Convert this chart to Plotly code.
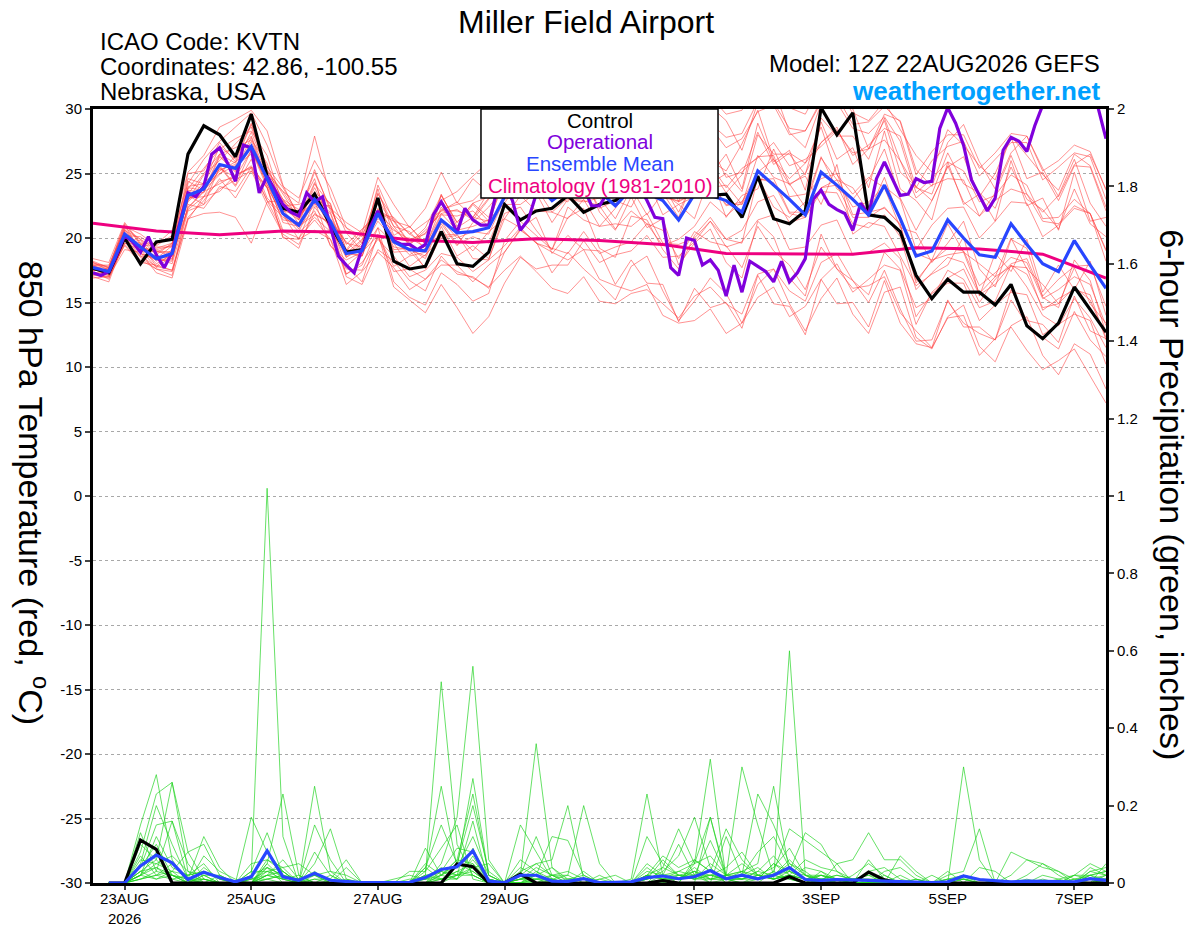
import pandas as pd
import plotly.graph_objects as go

# %% values
# 850 hPa temperature, 6-hourly from 12Z 22AUG2026 (65 steps)
control_t = [
    17.65, 17.3, 20.0, 18.0, 19.7, 19.9, 26.5, 28.7, 28.0, 26.3,
    29.6, 24.8, 22.3, 22.0, 23.4, 21.0, 18.9, 19.1, 23.1, 18.2,
    17.6, 17.8, 20.5, 18.0, 17.8, 18.9, 22.6, 21.4, 22.1, 22.3,
    23.3, 22.0, 22.6, 22.9, 23.8, 24.2, 23.6, 24.0, 23.5, 23.3,
    23.4, 21.6, 24.8, 21.5, 21.1, 22.1, 30.1, 28.0, 29.7, 21.8,
    21.6, 20.5, 17.1, 15.3, 16.8, 15.8, 15.8, 14.8, 16.4, 13.2,
    12.2, 13.4, 16.2, 14.5, 12.7,
]
mean_t = [
    17.7, 17.4, 20.3, 19.3, 18.4, 18.8, 23.3, 23.8, 25.7, 25.4,
    27.1, 24.6, 21.9, 21.0, 23.0, 21.3, 18.8, 19.0, 21.9, 19.7,
    19.1, 19.0, 21.4, 20.4, 20.5, 20.8, 23.2, 24.0, 24.3, 22.9,
    23.8, 24.2, 23.6, 22.5, 23.8, 23.5, 22.9, 21.4, 23.4, 23.3,
    22.9, 22.0, 25.2, 24.1, 23.0, 21.8, 25.1, 24.1, 23.0, 21.8,
    24.1, 21.5, 18.6, 19.0, 21.4, 20.0, 18.7, 18.5, 21.1, 19.5,
    18.0, 17.4, 19.8, 17.9, 16.1,
]
# operational run, 3-hourly (129 steps)
oper_t = [
    17.3, 17.1, 17.4, 18.7, 20.2, 19.7, 18.9, 20.1, 18.7, 17.7, 18.9, 21.3,
    23.5, 23.2, 24.0, 26.5, 27.0, 25.8, 24.4, 27.2, 27.0, 23.5, 24.8, 23.7,
    22.6, 22.0, 21.7, 23.5, 22.8, 23.2, 21.0, 18.6, 17.9, 17.3, 19.2, 20.8,
    22.1, 20.8, 19.8, 19.5, 19.5, 19.1, 19.5, 21.8, 22.8, 21.8, 20.4, 22.3,
    21.4, 21.0, 21.0, 23.6, 24.2, 22.9, 20.6, 21.4, 23.4, 24.0, 23.6, 24.3,
    23.8, 24.5, 23.9, 22.5, 22.5, 23.5, 24.1, 23.7, 24.4, 24.0, 22.9, 21.6,
    21.5, 17.7, 17.1, 20.0, 19.8, 17.9, 18.3, 17.5, 15.5, 17.9, 15.8, 18.2,
    17.8, 17.4, 16.6, 18.2, 16.6, 17.3, 18.4, 23.0, 23.7, 22.6, 22.2, 21.9,
    20.6, 22.7, 21.8, 24.6, 25.9, 24.6, 23.3, 23.4, 24.6, 24.3, 24.4, 28.5,
    30.1, 28.9, 27.2, 24.5, 23.3, 22.1, 23.1, 26.8, 27.8, 27.5, 26.7, 28.7,
    30.3, 31.2, 31.8, 31.4, 31.9, 31.1, 30.6, 30.1, 27.7,
]
# climatology 1981-2010, daily at 12Z
clim_t = [21.15, 20.55, 20.25, 20.55, 20.45, 19.85, 19.65, 19.95, 19.8,
          19.5, 18.8, 18.8, 18.75, 19.25, 19.15, 18.75, 16.9]

# ensemble members (6-hourly, 65 steps)
temp_members = [
    [18.1, 17.5, 20.9, 20.3, 19.4, 20.2, 24.2, 26.1, 27.5, 28.6,
     29.7, 27.2, 24.0, 23.1, 26.0, 23.9, 20.8, 20.1, 23.4, 21.5,
     20.3, 19.6, 22.9, 23.6, 24.8, 25.9, 28.3, 27.6, 29.4, 27.0,
     28.8, 30.6, 29.0, 26.7, 27.5, 29.8, 28.3, 25.7, 27.4, 30.2,
     29.1, 26.8, 30.5, 31.6, 28.2, 27.0, 30.4, 31.8, 30.0, 26.9,
     29.6, 29.1, 25.3, 24.0, 27.4, 28.8, 25.9, 23.8, 26.6, 27.9,
     25.4, 23.2, 25.7, 26.5, 23.8],
    [17.2, 16.9, 19.5, 18.3, 17.6, 17.4, 21.6, 22.9, 24.6, 23.1,
     25.2, 23.9, 20.1, 19.2, 22.4, 20.8, 17.0, 16.4, 19.1, 18.2,
     16.7, 15.9, 18.6, 17.2, 17.0, 16.1, 18.9, 20.6, 19.7, 17.3,
     18.9, 17.6, 16.5, 15.2, 17.8, 18.6, 15.9, 13.6, 15.1, 16.9,
     15.7, 13.4, 16.4, 17.6, 14.9, 12.8, 15.3, 16.9, 14.1, 12.6,
     15.8, 16.2, 12.3, 11.4, 13.9, 14.8, 11.6, 10.4, 13.2, 13.9,
     10.9, 9.4, 11.8, 11.0, 8.3],
    [16.9, 17.0, 19.1, 18.9, 17.3, 16.9, 21.4, 23.2, 23.6, 24.9,
     25.4, 22.9, 21.6, 20.9, 22.1, 19.4, 18.3, 18.9, 20.2, 17.8,
     18.6, 18.9, 21.1, 19.4, 21.2, 22.4, 23.9, 26.3, 25.1, 23.6,
     27.3, 26.1, 25.4, 27.0, 28.2, 25.9, 24.6, 26.3, 28.5, 26.0,
     25.2, 27.3, 29.9, 26.1, 24.6, 25.8, 28.6, 24.9, 23.4, 24.7,
     23.9, 20.8, 20.4, 18.1, 19.6, 21.3, 17.6, 16.2, 19.9, 19.2,
     15.4, 14.6, 18.3, 16.7, 12.6],
    [18.4, 18.1, 21.2, 19.6, 19.5, 20.6, 25.1, 26.4, 28.6, 29.2,
     29.9, 28.3, 24.1, 21.6, 23.5, 22.7, 18.6, 19.8, 23.0, 20.9,
     19.4, 17.6, 20.2, 20.3, 18.4, 18.3, 21.9, 22.4, 20.6, 19.1,
     21.6, 22.3, 19.2, 18.5, 21.7, 21.4, 19.1, 17.6, 20.2, 21.6,
     19.9, 19.6, 24.7, 22.4, 21.6, 22.8, 26.3, 23.8, 23.0, 24.5,
     26.9, 23.1, 20.6, 22.9, 25.6, 22.8, 21.7, 23.5, 26.4, 23.4,
     22.0, 23.3, 26.1, 22.7, 20.9],
    [17.6, 17.1, 19.8, 18.6, 17.8, 17.5, 22.1, 22.6, 23.8, 24.5,
     25.2, 22.6, 20.3, 19.5, 21.9, 21.1, 17.2, 17.9, 20.8, 16.6,
     15.4, 14.8, 17.3, 16.4, 15.1, 15.7, 19.8, 21.3, 20.2, 19.1,
     22.4, 21.4, 20.9, 22.3, 23.9, 21.8, 23.5, 22.6, 23.2, 25.4,
     23.5, 24.9, 28.2, 25.7, 26.6, 25.8, 27.4, 28.6, 25.7, 26.9,
     29.1, 25.1, 24.0, 22.9, 25.5, 26.3, 23.2, 25.0, 27.8, 24.6,
     25.1, 22.9, 25.6, 25.5, 22.1],
    [18.0, 17.8, 21.0, 19.0, 19.0, 18.9, 24.4, 23.7, 24.9, 26.4,
     27.9, 24.8, 23.0, 22.2, 24.6, 20.4, 19.1, 18.9, 23.5, 20.9,
     20.5, 19.1, 21.8, 21.7, 22.1, 20.9, 25.1, 24.3, 25.7, 24.1,
     23.6, 24.9, 22.0, 20.6, 23.2, 20.8, 21.5, 17.9, 19.6, 20.7,
     18.1, 16.9, 21.3, 20.1, 16.9, 15.5, 20.3, 17.6, 16.1, 16.3,
     17.0, 14.2, 12.8, 11.5, 13.8, 14.0, 10.9, 12.2, 13.1, 11.3,
     9.8, 10.5, 11.4, 9.3, 7.2],
    [17.5, 17.6, 20.2, 20.1, 19.2, 19.6, 22.9, 24.9, 26.0, 27.3,
     28.6, 25.2, 23.6, 21.8, 25.1, 22.3, 21.2, 20.4, 24.7, 22.6,
     20.8, 22.3, 25.1, 22.7, 24.6, 23.5, 26.4, 29.0, 27.9, 28.4,
     27.8, 30.1, 27.6, 28.1, 27.4, 28.7, 26.0, 26.0, 25.9, 27.3,
     24.7, 25.1, 26.3, 26.4, 23.2, 23.4, 24.6, 25.0, 21.8, 22.0,
     22.3, 21.1, 16.5, 18.3, 18.7, 18.9, 15.7, 17.0, 17.8, 17.7,
     14.4, 15.3, 16.0, 15.6, 12.1],
    [17.1, 17.0, 19.6, 19.5, 17.8, 18.9, 22.3, 23.6, 24.2, 24.9,
     25.5, 23.9, 20.0, 19.9, 20.6, 19.9, 16.4, 17.4, 18.9, 17.7,
     16.0, 16.8, 17.9, 17.9, 16.6, 17.9, 18.9, 20.7, 19.6, 19.2,
     18.8, 20.5, 18.8, 19.3, 19.7, 21.1, 19.4, 19.9, 20.9, 22.8,
     21.7, 22.8, 25.1, 26.1, 24.1, 25.0, 27.4, 28.4, 26.4, 27.2,
     28.5, 27.9, 23.9, 26.0, 27.1, 27.5, 24.8, 26.1, 27.4, 27.4,
     24.5, 25.5, 26.6, 26.3, 23.0],
    [17.4, 16.8, 20.1, 18.6, 18.5, 18.0, 22.4, 23.6, 25.6, 24.1,
     26.8, 24.4, 21.2, 20.9, 21.8, 21.2, 17.8, 18.9, 20.8, 19.6,
     17.8, 18.7, 20.0, 20.2, 19.0, 20.5, 21.5, 23.3, 22.1, 22.0,
     21.5, 23.0, 20.9, 21.1, 20.9, 21.9, 19.6, 19.5, 20.0, 21.3,
     19.3, 19.7, 21.4, 21.8, 19.1, 19.3, 21.0, 21.4, 18.7, 18.9,
     19.6, 18.4, 13.9, 15.7, 16.5, 16.5, 13.6, 14.8, 15.8, 15.6,
     12.5, 13.3, 14.1, 13.6, 10.2],
    [17.9, 17.7, 20.7, 19.2, 18.9, 19.5, 23.9, 23.7, 26.4, 25.2,
     27.8, 24.4, 22.9, 21.1, 24.2, 22.6, 19.0, 20.3, 22.2, 21.4,
     19.6, 20.8, 23.3, 21.2, 22.7, 23.2, 24.4, 26.8, 25.9, 26.1,
     25.9, 27.8, 26.0, 26.6, 26.7, 27.9, 26.2, 26.2, 27.1, 28.6,
     27.0, 27.7, 29.8, 30.3, 28.0, 28.3, 30.5, 31.0, 28.8, 29.0,
     30.2, 29.0, 24.9, 26.7, 28.0, 28.0, 25.4, 26.6, 28.1, 27.9,
     25.2, 26.0, 27.2, 26.7, 23.7],
    [17.6, 17.2, 20.4, 18.8, 18.3, 18.2, 23.3, 22.6, 25.5, 24.0,
     26.1, 23.1, 21.8, 19.9, 22.9, 19.4, 17.9, 16.6, 20.3, 16.2,
     15.2, 14.2, 16.4, 14.6, 12.6, 13.9, 16.5, 18.5, 17.6, 17.9,
     17.9, 19.8, 18.1, 18.7, 19.0, 20.2, 18.5, 18.6, 19.7, 21.3,
     19.9, 20.6, 22.8, 23.3, 21.2, 21.6, 23.9, 24.5, 22.4, 22.8,
     24.0, 23.0, 19.1, 21.0, 22.3, 22.4, 20.0, 21.3, 22.8, 22.7,
     20.1, 21.0, 22.3, 21.9, 19.0],
    [17.2, 17.3, 19.4, 18.1, 17.9, 17.5, 21.5, 21.9, 22.0, 21.6,
     19.6, 22.8, 22.9, 21.8, 22.6, 22.5, 19.1, 20.6, 22.0, 21.3,
     19.5, 20.6, 21.9, 22.2, 21.4, 23.0, 24.3, 26.6, 25.8, 25.9,
     25.4, 26.8, 24.6, 24.7, 24.5, 25.3, 23.1, 22.9, 23.4, 24.4,
     22.5, 22.8, 24.5, 24.6, 22.0, 22.0, 23.9, 24.1, 21.6, 21.6,
     22.4, 21.0, 16.7, 18.2, 19.2, 19.0, 16.3, 17.3, 18.5, 18.1,
     15.3, 16.0, 17.0, 16.4, 13.2],
    [18.1, 17.7, 21.1, 19.5, 19.3, 19.3, 25.0, 25.2, 27.4, 25.9,
     28.8, 25.3, 23.4, 21.5, 24.3, 21.3, 19.7, 18.6, 22.3, 18.9,
     19.0, 17.7, 20.9, 18.6, 19.4, 18.4, 21.5, 20.8, 21.6, 18.8,
     20.2, 19.1, 19.0, 16.4, 18.3, 16.5, 16.4, 13.5, 16.1, 14.6,
     15.0, 13.0, 17.1, 14.9, 14.7, 12.5, 16.8, 14.9, 15.0, 13.1,
     16.7, 13.4, 11.8, 11.5, 15.2, 13.1, 13.1, 12.1, 16.0, 13.6,
     13.3, 11.9, 15.5, 12.8, 12.2],
    [17.8, 17.6, 20.0, 19.8, 18.4, 19.4, 23.4, 25.0, 26.5, 27.0,
     27.6, 25.8, 22.1, 21.8, 22.8, 22.0, 18.8, 19.9, 22.0, 20.7,
     19.5, 20.4, 22.1, 22.1, 21.6, 23.1, 24.8, 26.8, 26.5, 26.3,
     26.6, 28.1, 26.9, 26.9, 27.5, 28.4, 27.1, 26.6, 27.9, 28.9,
     27.8, 28.1, 30.6, 30.5, 28.5, 28.3, 30.7, 30.5, 28.5, 28.1,
     29.4, 27.5, 23.5, 24.6, 25.9, 25.2, 22.8, 23.3, 24.9, 24.1,
     21.5, 21.6, 23.0, 21.9, 19.1],
    [17.5, 17.5, 20.0, 19.6, 18.2, 19.1, 22.8, 24.0, 25.0, 25.6,
     26.5, 24.9, 23.6, 22.7, 27.9, 23.2, 20.4, 19.0, 24.1, 21.3,
     20.9, 19.5, 23.3, 21.2, 22.7, 21.6, 25.4, 25.1, 26.6, 24.0,
     25.2, 26.5, 24.8, 24.4, 24.7, 25.3, 23.4, 22.8, 23.5, 24.3,
     22.6, 22.6, 24.6, 24.3, 21.9, 21.6, 23.6, 23.5, 21.1, 20.8,
     21.8, 20.1, 16.0, 17.3, 18.5, 18.1, 15.6, 16.4, 17.9, 17.2,
     14.6, 14.9, 16.2, 15.2, 12.3],
    [17.3, 17.4, 20.6, 19.3, 19.0, 18.6, 23.7, 23.5, 26.3, 25.1,
     27.5, 24.6, 22.2, 20.7, 23.5, 20.8, 18.9, 18.6, 22.1, 19.1,
     19.2, 18.4, 21.3, 19.5, 20.1, 19.6, 22.6, 22.6, 23.5, 21.2,
     23.0, 22.8, 23.1, 21.5, 23.8, 23.1, 23.5, 21.6, 24.8, 24.2,
     25.0, 23.6, 28.0, 26.5, 26.5, 24.9, 29.3, 27.9, 27.9, 26.1,
     29.3, 26.0, 23.9, 23.4, 26.6, 24.2, 23.5, 22.3, 25.5, 23.0,
     22.2, 20.7, 23.8, 21.1, 20.1],
    [17.8, 17.4, 20.2, 18.8, 18.4, 18.3, 23.1, 23.2, 25.4, 24.7,
     26.8, 23.9, 21.8, 20.5, 23.0, 20.8, 18.8, 18.6, 21.9, 19.3,
     19.1, 18.6, 21.4, 20.0, 20.5, 20.3, 23.0, 23.3, 23.9, 22.0,
     23.1, 22.9, 22.5, 20.7, 22.1, 21.1, 20.6, 18.4, 20.5, 19.7,
     19.4, 17.7, 20.9, 19.0, 17.9, 16.0, 19.3, 17.6, 16.7, 15.0,
     17.5, 14.5, 12.0, 12.1, 15.1, 13.4, 12.6, 12.1, 15.2, 13.3,
     12.3, 11.4, 14.3, 12.1, 10.8],
    [18.2, 17.7, 20.8, 19.9, 18.7, 19.6, 24.6, 24.2, 27.1, 26.1,
     28.9, 25.5, 23.9, 21.8, 25.3, 22.1, 20.8, 19.6, 23.8, 20.2,
     20.9, 19.6, 23.4, 20.9, 22.6, 21.3, 25.4, 24.6, 26.7, 23.7,
     26.3, 25.0, 26.4, 23.5, 26.8, 24.7, 26.1, 22.8, 26.7, 24.9,
     26.5, 23.8, 28.9, 25.9, 26.8, 23.7, 29.0, 26.1, 27.0, 23.9,
     28.3, 23.8, 22.9, 21.4, 25.9, 22.6, 23.4, 21.3, 26.0, 22.5,
     23.1, 20.6, 25.1, 21.3, 21.6],
    [17.2, 17.1, 19.6, 19.1, 17.7, 18.6, 22.2, 23.2, 24.4, 24.7,
     25.6, 23.9, 20.6, 20.4, 21.6, 20.5, 17.2, 18.1, 19.9, 18.6,
     17.0, 17.5, 18.8, 18.5, 17.4, 18.3, 19.4, 20.8, 19.6, 18.9,
     18.3, 19.1, 16.8, 16.3, 15.9, 16.4, 14.0, 13.4, 13.6, 14.5,
     12.6, 13.4, 15.4, 16.2, 13.9, 14.7, 16.8, 18.0, 15.8, 16.8,
     17.9, 17.5, 13.3, 15.8, 16.9, 17.6, 15.0, 16.8, 18.0, 18.4,
     15.5, 16.8, 17.8, 17.9, 14.7],
    [17.9, 17.3, 20.5, 19.3, 18.9, 18.9, 24.0, 24.2, 26.5, 25.8,
     28.2, 25.2, 23.0, 21.4, 23.9, 21.5, 19.6, 19.3, 22.8, 20.0,
     20.0, 19.3, 22.4, 20.8, 21.6, 21.3, 24.4, 24.6, 25.5, 23.5,
     25.0, 24.8, 24.8, 23.1, 25.0, 24.1, 24.1, 22.0, 24.6, 23.9,
     24.1, 22.6, 26.4, 24.7, 24.2, 22.4, 26.2, 24.5, 23.9, 22.0,
     24.7, 21.3, 18.8, 18.3, 21.1, 18.9, 18.0, 17.0, 20.0, 17.6,
     16.4, 14.9, 17.7, 14.9, 13.4],
    [17.7, 17.2, 20.3, 19.0, 18.6, 18.4, 23.0, 23.8, 25.2, 25.9,
     26.9, 24.2, 21.4, 21.2, 22.5, 21.9, 18.5, 19.6, 21.5, 20.6,
     19.9, 20.3, 22.2, 22.6, 22.9, 24.1, 25.8, 27.9, 28.3, 27.8,
     29.1, 30.4, 30.0, 29.3, 30.8, 31.2, 29.5, 28.4, 30.3, 31.0,
     29.6, 29.9, 32.3, 31.6, 30.1, 29.6, 31.9, 31.4, 29.7, 29.1,
     30.6, 28.4, 26.4, 25.1, 28.4, 27.2, 25.6, 24.5, 27.9, 26.4,
     24.9, 23.7, 26.5, 25.6, 22.4],
    [17.5, 17.6, 20.0, 19.4, 18.0, 18.7, 22.9, 24.3, 25.3, 25.7,
     27.0, 24.1, 22.3, 21.4, 23.6, 20.7, 18.5, 19.2, 21.3, 19.9,
     18.7, 19.4, 21.9, 20.6, 20.9, 21.4, 22.7, 24.5, 23.7, 23.3,
     22.8, 24.6, 22.3, 22.9, 22.4, 24.6, 21.8, 22.6, 21.5, 24.9,
     21.6, 23.3, 23.8, 26.9, 24.2, 24.8, 22.6, 25.7, 20.3, 21.2,
     20.9, 18.6, 16.3, 17.2, 17.9, 20.1, 15.5, 18.8, 17.4, 19.9,
     15.8, 17.9, 16.0, 18.2, 14.0],
    [17.0, 16.6, 19.9, 18.5, 17.6, 17.1, 22.6, 22.3, 24.0, 23.6,
     25.5, 22.9, 20.5, 20.0, 21.4, 19.9, 17.6, 17.5, 20.1, 17.4,
     17.6, 16.8, 18.3, 17.4, 16.9, 16.2, 17.5, 18.6, 17.4, 16.1,
     15.7, 17.0, 15.1, 14.9, 15.7, 16.0, 14.9, 13.8, 15.5, 16.2,
     14.9, 14.1, 17.2, 17.6, 15.9, 15.1, 18.1, 18.8, 16.7, 15.6,
     18.9, 17.6, 14.6, 15.3, 17.5, 16.8, 14.6, 15.1, 17.9, 16.2,
     14.0, 13.2, 15.3, 13.8, 11.5],
    [17.9, 17.9, 20.6, 19.9, 19.1, 19.4, 23.8, 25.4, 26.9, 27.7,
     28.3, 26.4, 22.5, 22.6, 23.1, 22.3, 19.5, 20.7, 21.9, 21.6,
     20.3, 21.2, 22.1, 22.8, 21.6, 23.6, 24.1, 26.0, 25.2, 25.6,
     24.9, 26.6, 24.1, 25.6, 24.2, 26.1, 23.6, 24.6, 23.8, 25.7,
     23.9, 25.4, 26.2, 27.4, 25.6, 26.1, 27.1, 28.3, 26.6, 26.9,
     27.6, 26.0, 23.1, 24.1, 24.6, 24.5, 21.7, 22.9, 23.8, 23.4,
     21.3, 21.1, 22.5, 21.9, 18.2],
]

# 6-hour precipitation (inches), from 18Z 22AUG2026 (64 steps)
control_p = [
    0, 0, 0.111, 0.087, 0, 0, 0, 0,
    0, 0, 0, 0, 0, 0, 0, 0,
    0, 0, 0, 0, 0, 0, 0.049, 0.042,
    0, 0, 0.023, 0, 0, 0, 0, 0,
    0, 0, 0, 0.006, 0, 0, 0, 0,
    0, 0, 0, 0.016, 0, 0, 0, 0,
    0.028, 0.008, 0, 0, 0, 0, 0, 0,
    0, 0, 0, 0, 0, 0, 0, 0,
]
mean_p = [
    0, 0, 0.044, 0.072, 0.052, 0.009, 0.028, 0.014,
    0.003, 0.016, 0.083, 0.016, 0.007, 0.025, 0.007, 0.003,
    0.001, 0.001, 0.001, 0.002, 0.014, 0.035, 0.042, 0.083,
    0.005, 0.001, 0.02, 0.02, 0.005, 0.004, 0.011, 0.001,
    0.002, 0.003, 0.014, 0.018, 0.011, 0.016, 0.032, 0.011,
    0.02, 0.011, 0.02, 0.04, 0.009, 0.007, 0.009, 0.009,
    0.007, 0.005, 0.003, 0.003, 0.001, 0.003, 0.018, 0.009,
    0.005, 0.003, 0.005, 0.005, 0.003, 0.003, 0.011, 0.007,
]
precip_members = [
    [0, 0, 0.15, 0.28, 0.06, 0, 0.02, 0,
     0, 0.02, 1.02, 0.12, 0, 0.03, 0, 0,
     0, 0, 0, 0, 0.02, 0.52, 0.10, 0.02,
     0, 0, 0.04, 0.02, 0, 0, 0, 0,
     0, 0, 0.05, 0.02, 0, 0.06, 0.03, 0,
     0, 0.01, 0.05, 0.02, 0, 0, 0, 0,
     0, 0, 0, 0, 0, 0, 0.02, 0.01,
     0, 0, 0, 0, 0, 0, 0.02, 0],
    [0, 0, 0.08, 0.23, 0.26, 0.03, 0, 0,
     0, 0, 0.05, 0.23, 0.02, 0, 0, 0,
     0, 0, 0, 0, 0, 0.05, 0.17, 0.56,
     0.06, 0, 0, 0.03, 0, 0, 0.01, 0,
     0, 0, 0.02, 0.04, 0.14, 0.05, 0.32, 0.01,
     0, 0.02, 0.01, 0.03, 0.01, 0, 0, 0,
     0, 0, 0, 0, 0, 0, 0, 0,
     0, 0, 0, 0, 0, 0.02, 0.05, 0.03],
    [0, 0, 0.04, 0.15, 0.16, 0.01, 0.12, 0.04,
     0, 0.17, 0.08, 0.03, 0, 0.15, 0.06, 0,
     0, 0, 0, 0, 0.09, 0.02, 0.04, 0.27,
     0.02, 0, 0.02, 0.36, 0.04, 0, 0, 0,
     0, 0, 0, 0, 0, 0, 0.17, 0.02,
     0.30, 0.15, 0.02, 0.01, 0, 0.03, 0, 0,
     0, 0, 0, 0, 0, 0.03, 0, 0,
     0, 0, 0, 0.01, 0, 0, 0.04, 0.02],
    [0, 0, 0.03, 0.06, 0.26, 0.08, 0.10, 0.02,
     0, 0, 0.04, 0.02, 0, 0.25, 0.03, 0,
     0, 0, 0, 0, 0.04, 0.15, 0.05, 0.20,
     0.03, 0, 0.15, 0.08, 0.01, 0, 0.03, 0,
     0, 0.01, 0.23, 0.02, 0.01, 0.03, 0.01, 0.02,
     0.05, 0.02, 0.01, 0.60, 0.02, 0, 0.01, 0,
     0, 0, 0, 0, 0, 0, 0.01, 0,
     0, 0, 0, 0, 0, 0, 0, 0.01],
    [0, 0, 0.02, 0.12, 0.04, 0.02, 0.03, 0.01,
     0, 0.05, 0.06, 0.03, 0, 0.05, 0.14, 0.01,
     0, 0, 0, 0, 0, 0.03, 0.02, 0.16,
     0, 0, 0, 0, 0.02, 0.03, 0.01, 0,
     0, 0, 0, 0.02, 0.03, 0.05, 0.17, 0.01,
     0, 0, 0.03, 0.14, 0.11, 0.08, 0.05, 0.06,
     0.13, 0.06, 0.06, 0.02, 0, 0, 0, 0,
     0, 0, 0, 0, 0, 0, 0, 0],
    [0, 0, 0.10, 0.06, 0.02, 0, 0.07, 0.03,
     0.01, 0, 0.05, 0.01, 0.02, 0, 0, 0,
     0, 0, 0, 0.03, 0.03, 0.09, 0.15, 0.01,
     0, 0, 0.01, 0.04, 0.02, 0.02, 0.20, 0.05,
     0, 0, 0, 0, 0.02, 0.03, 0, 0.12,
     0.02, 0.23, 0.15, 0.05, 0.03, 0, 0, 0.01,
     0, 0, 0.02, 0, 0, 0, 0, 0,
     0, 0, 0.02, 0.05, 0.03, 0, 0, 0],
    [0, 0, 0.06, 0.05, 0.03, 0.08, 0.01, 0,
     0, 0, 0.03, 0.04, 0.05, 0.02, 0, 0.04,
     0, 0, 0, 0, 0.05, 0.02, 0.06, 0.23,
     0.02, 0, 0, 0.02, 0.12, 0.11, 0.02, 0,
     0, 0, 0, 0, 0, 0.05, 0.07, 0.02,
     0.03, 0.05, 0.25, 0.03, 0.13, 0.10, 0.03, 0,
     0.06, 0.01, 0, 0, 0, 0, 0, 0,
     0, 0.08, 0.06, 0.05, 0.02, 0, 0.01, 0.02],
    [0, 0, 0.05, 0.20, 0.10, 0.01, 0, 0,
     0, 0.03, 0.13, 0.02, 0, 0, 0, 0,
     0, 0, 0, 0, 0.03, 0.25, 0.04, 0.12,
     0.02, 0, 0, 0, 0, 0, 0, 0.01,
     0.02, 0, 0.02, 0.07, 0.04, 0.06, 0.03, 0.14,
     0.06, 0.02, 0.04, 0.09, 0.02, 0, 0, 0,
     0.03, 0.04, 0.01, 0, 0, 0, 0, 0,
     0, 0, 0, 0, 0, 0.01, 0.02, 0.03],
    [0, 0, 0.02, 0.08, 0.05, 0.01, 0, 0.02,
     0, 0.01, 0.02, 0.06, 0.01, 0.02, 0.01, 0.06,
     0, 0, 0, 0, 0.02, 0.03, 0.09, 0.08,
     0.01, 0, 0.02, 0.12, 0.02, 0, 0, 0.02,
     0, 0, 0.01, 0.03, 0.07, 0.17, 0.04, 0,
     0.02, 0.08, 0.12, 0.04, 0.01, 0, 0.05, 0,
     0, 0, 0.07, 0.03, 0, 0, 0, 0.04,
     0.03, 0, 0, 0, 0, 0, 0, 0],
    [0, 0, 0.13, 0.03, 0.16, 0.05, 0, 0,
     0, 0, 0.06, 0.04, 0, 0.08, 0.02, 0,
     0, 0, 0, 0, 0, 0.01, 0.03, 0.05,
     0, 0, 0.03, 0.05, 0.06, 0.20, 0.01, 0,
     0, 0, 0, 0.04, 0.02, 0.02, 0.03, 0.01,
     0.01, 0.03, 0.07, 0.02, 0.06, 0.04, 0.03, 0.01,
     0.01, 0, 0, 0, 0, 0, 0.30, 0.06,
     0, 0, 0, 0, 0, 0, 0, 0],
    [0, 0, 0.04, 0.10, 0.02, 0, 0.04, 0.01,
     0, 0, 0.02, 0.01, 0, 0.02, 0.03, 0.02,
     0, 0, 0.01, 0.02, 0.01, 0.04, 0.02, 0.04,
     0.05, 0, 0.06, 0.03, 0.01, 0, 0, 0,
     0, 0, 0.12, 0.05, 0.02, 0.01, 0.02, 0.04,
     0.08, 0.02, 0.01, 0.02, 0.01, 0.02, 0, 0,
     0, 0, 0, 0, 0, 0.02, 0.03, 0.14,
     0, 0, 0, 0, 0, 0, 0, 0.02],
    [0, 0, 0.03, 0.04, 0.01, 0, 0.01, 0,
     0, 0.03, 0.03, 0.02, 0, 0.01, 0, 0,
     0, 0, 0, 0, 0, 0.02, 0.01, 0.04,
     0, 0, 0.01, 0.02, 0.04, 0.01, 0.02, 0,
     0, 0, 0.01, 0.02, 0.10, 0.02, 0.11, 0.02,
     0.01, 0.03, 0.02, 0.06, 0.02, 0.01, 0, 0,
     0, 0.02, 0, 0, 0, 0, 0.02, 0,
     0, 0.02, 0.06, 0.04, 0.03, 0.01, 0, 0.01],
    [0, 0, 0.01, 0.03, 0.02, 0.01, 0, 0,
     0, 0.01, 0.01, 0, 0, 0, 0, 0,
     0, 0, 0, 0, 0.01, 0.02, 0.06, 0.05,
     0.01, 0, 0, 0, 0, 0, 0, 0.01,
     0, 0, 0, 0.01, 0.03, 0.02, 0.02, 0.01,
     0.02, 0.01, 0.05, 0.03, 0.02, 0.01, 0, 0.02,
     0.05, 0.02, 0, 0, 0, 0.01, 0.01, 0,
     0, 0, 0.01, 0, 0, 0, 0, 0.05],
    [0, 0, 0.02, 0.01, 0.03, 0.02, 0.03, 0.01,
     0, 0, 0.02, 0.03, 0, 0.01, 0.01, 0,
     0, 0, 0, 0, 0.02, 0.01, 0.03, 0.02,
     0, 0, 0.01, 0.01, 0.02, 0.01, 0.01, 0,
     0, 0, 0.04, 0.01, 0.01, 0.02, 0, 0.01,
     0.03, 0.01, 0.02, 0.01, 0, 0.02, 0.01, 0,
     0, 0, 0, 0.01, 0, 0, 0, 0,
     0, 0, 0, 0.02, 0.01, 0, 0.03, 0.04],
    [0, 0, 0.02, 0.05, 0.07, 0.03, 0.02, 0,
     0, 0, 0.01, 0.02, 0.01, 0, 0, 0.01,
     0, 0, 0, 0, 0, 0.01, 0.02, 0.03,
     0, 0, 0.02, 0.01, 0.01, 0, 0, 0,
     0, 0, 0.02, 0.01, 0.02, 0.01, 0.05, 0.02,
     0.02, 0.04, 0.01, 0.02, 0.01, 0.01, 0.02, 0.01,
     0.02, 0.01, 0, 0, 0, 0.01, 0.02, 0.01,
     0, 0, 0, 0, 0, 0, 0.01, 0],
    [0, 0, 0.07, 0.02, 0.01, 0.02, 0.05, 0,
     0, 0, 0.02, 0.01, 0, 0, 0, 0,
     0, 0, 0, 0, 0, 0, 0.02, 0.06,
     0.01, 0, 0.02, 0.05, 0.02, 0, 0, 0,
     0, 0, 0.01, 0.06, 0.02, 0.01, 0.01, 0.01,
     0.01, 0.02, 0.02, 0.05, 0.02, 0.02, 0.01, 0.01,
     0.01, 0.01, 0, 0, 0.02, 0, 0, 0,
     0, 0, 0, 0, 0, 0, 0.03, 0.02],
    [0, 0, 0.01, 0.02, 0.05, 0.01, 0.01, 0,
     0, 0.02, 0.04, 0, 0, 0, 0, 0,
     0, 0, 0, 0, 0.04, 0.01, 0.01, 0.07,
     0, 0, 0, 0.01, 0.01, 0.02, 0, 0,
     0, 0, 0.02, 0.01, 0.01, 0.03, 0.02, 0.01,
     0.02, 0.01, 0.03, 0.01, 0.04, 0.03, 0.01, 0,
     0, 0, 0, 0, 0, 0.01, 0.01, 0,
     0, 0, 0, 0, 0.01, 0.02, 0.01, 0.01],
    [0, 0, 0.02, 0.04, 0.02, 0, 0.02, 0.02,
     0, 0, 0.04, 0.02, 0.01, 0.02, 0, 0,
     0, 0, 0, 0.01, 0.01, 0.03, 0.01, 0.09,
     0.01, 0, 0.01, 0.02, 0, 0.01, 0.01, 0,
     0, 0, 0.03, 0.02, 0.01, 0.04, 0.01, 0.02,
     0.01, 0.01, 0.02, 0.03, 0.01, 0.02, 0.01, 0,
     0, 0.03, 0.04, 0.01, 0, 0, 0, 0,
     0, 0, 0, 0, 0, 0.01, 0.01, 0],
    [0, 0, 0.03, 0.01, 0.02, 0.01, 0.01, 0,
     0, 0, 0.01, 0.02, 0, 0, 0, 0,
     0, 0, 0, 0, 0, 0.02, 0.05, 0.03,
     0, 0, 0, 0.01, 0, 0, 0.01, 0,
     0, 0, 0.01, 0.02, 0.02, 0.01, 0.02, 0.02,
     0.03, 0.02, 0.01, 0.02, 0, 0.01, 0.02, 0.01,
     0.02, 0, 0, 0, 0, 0, 0.01, 0.01,
     0, 0, 0, 0, 0, 0.02, 0.02, 0.01],
    [0, 0, 0.01, 0.02, 0.03, 0, 0, 0,
     0, 0.01, 0.03, 0.01, 0, 0, 0.02, 0,
     0, 0, 0, 0, 0.01, 0.01, 0.02, 0.02,
     0, 0, 0.01, 0, 0.01, 0, 0, 0,
     0, 0, 0.02, 0.01, 0.01, 0.02, 0.01, 0.01,
     0.01, 0.02, 0.01, 0.02, 0.01, 0, 0, 0,
     0, 0, 0, 0.01, 0, 0, 0, 0,
     0, 0, 0, 0, 0, 0, 0.02, 0.03],
]

date_ticks = ["2026-08-23", "2026-08-25", "2026-08-27", "2026-08-29",
              "2026-09-01", "2026-09-03", "2026-09-05", "2026-09-07"]
date_labels = ["23AUG<br>2026", "25AUG", "27AUG", "29AUG",
               "1SEP", "3SEP", "5SEP", "7SEP"]
temp_ticks = list(range(-30, 31, 5))
precip_ticks = [0, 0.2, 0.4, 0.6, 0.8, 1.0, 1.2, 1.4, 1.6, 1.8, 2.0]
precip_labels = ["0", "0.2", "0.4", "0.6", "0.8", "1", "1.2", "1.4", "1.6", "1.8", "2"]

# %% time axes
t6 = pd.date_range("2026-08-22 12:00", periods=65, freq="6h")
t3 = pd.date_range("2026-08-22 12:00", periods=129, freq="3h")
tp = pd.date_range("2026-08-22 18:00", periods=64, freq="6h")
tc = pd.date_range("2026-08-22 12:00", periods=17, freq="D")

FONT = "Liberation Sans, Arial, Helvetica, sans-serif"
RED = "rgba(255,60,60,0.7)"
GREEN = "rgba(30,210,30,0.85)"
BLACK = "#000000"
PURPLE = "#8000dc"
BLUE = "#2846ff"
PINK = "#ee0080"

fig = go.Figure()

for member in temp_members:
    fig.add_trace(go.Scatter(x=t6[:len(member)], y=member, mode="lines",
                             line=dict(color=RED, width=0.8), yaxis="y"))

for member in precip_members:
    fig.add_trace(go.Scatter(x=tp[:len(member)], y=member, mode="lines",
                             line=dict(color=GREEN, width=0.8), yaxis="y2"))

fig.add_trace(go.Scatter(x=tc, y=clim_t, mode="lines",
                         line=dict(color=PINK, width=3), yaxis="y"))
fig.add_trace(go.Scatter(x=t6, y=control_t, mode="lines",
                         line=dict(color=BLACK, width=3.2), yaxis="y"))
fig.add_trace(go.Scatter(x=t3, y=oper_t, mode="lines",
                         line=dict(color=PURPLE, width=3.2), yaxis="y"))
fig.add_trace(go.Scatter(x=t6, y=mean_t, mode="lines",
                         line=dict(color=BLUE, width=3.2), yaxis="y"))
fig.add_trace(go.Scatter(x=tp, y=control_p, mode="lines",
                         line=dict(color=BLACK, width=3.2), yaxis="y2"))
fig.add_trace(go.Scatter(x=tp, y=mean_p, mode="lines",
                         line=dict(color=BLUE, width=3.2), yaxis="y2"))

# the page puts the figure 8 px in from the corner, so size and margins allow for that
fig.update_layout(
    width=1192,
    height=919,
    margin=dict(l=85, r=94, t=101, b=44),
    paper_bgcolor="white",
    plot_bgcolor="white",
    showlegend=False,
    font=dict(family=FONT, color="black"),
    xaxis=dict(
        range=[t6[0], t6[-1]],
        tickvals=date_ticks,
        ticktext=date_labels,
        tickfont=dict(size=15),
        ticks="outside",
        ticklen=4,
        tickwidth=1.5,
        ticklabelstandoff=-4,
        showgrid=False,
        showline=True,
        linewidth=3,
        linecolor="black",
        mirror=True,
        automargin=False,
    ),
    yaxis=dict(
        range=[-30, 30],
        tickvals=temp_ticks,
        ticktext=[str(v) for v in temp_ticks],
        tickfont=dict(size=15),
        ticks="outside",
        ticklen=5,
        tickwidth=1.5,
        showgrid=True,
        gridcolor="#a8a8a8",
        griddash="dot",
        gridwidth=1,
        zeroline=False,
        showline=True,
        linewidth=3,
        linecolor="black",
        automargin=False,
    ),
    yaxis2=dict(
        range=[0, 2],
        overlaying="y",
        side="right",
        tickvals=precip_ticks,
        ticktext=precip_labels,
        tickfont=dict(size=15),
        ticks="outside",
        ticklen=5,
        tickwidth=1.5,
        showgrid=False,
        zeroline=False,
        showline=True,
        linewidth=3,
        linecolor="black",
        automargin=False,
    ),
)

# header texts
header = [
    ("Miller Field Airport", 0.4867, 1.1124, "center", 32, BLACK, False),
    ("ICAO Code: KVTN", 0.0049, 1.0866, "left", 24, BLACK, False),
    ("Coordinates: 42.86, -100.55", 0.0049, 1.0543, "left", 24, BLACK, False),
    ("Nebraska, USA", 0.0049, 1.0220, "left", 24, BLACK, False),
    ("Model: 12Z 22AUG2026 GEFS", 0.9961, 1.0590, "right", 24, BLACK, False),
    ("weathertogether.net", 0.9961, 1.0235, "right", 26, "#00a0ff", True),
]
for text, x, y, anchor, size, color, bold in header:
    fig.add_annotation(
        text=f"<b>{text}</b>" if bold else text,
        xref="paper", yref="paper", x=x, y=y,
        xanchor=anchor, yanchor="middle", showarrow=False,
        font=dict(size=size, color=color, family=FONT),
    )

# axis titles, both read top to bottom
fig.add_annotation(
    text="850 hPa Temperature (red, <sup>o</sup>C)",
    xref="paper", yref="paper", x=-0.0592, y=0.504,
    xanchor="center", yanchor="middle", textangle=90, showarrow=False,
    font=dict(size=34, family=FONT),
)
fig.add_annotation(
    text="6-hour Precipitation (green, inches)",
    xref="paper", yref="paper", x=1.0651, y=0.501,
    xanchor="center", yanchor="middle", textangle=90, showarrow=False,
    font=dict(size=34, family=FONT),
)

# legend box drawn by hand (text only, coloured)
fig.add_shape(type="rect", xref="paper", yref="paper",
              x0=0.383, x1=0.617, y0=0.885, y1=1.0,
              line=dict(color="black", width=1.5), fillcolor="white", layer="above")
legend_rows = [
    ("Control", BLACK, 0.9845),
    ("Operational", PURPLE, 0.9574),
    ("Ensemble Mean", BLUE, 0.9302),
    ("Climatology (1981-2010)", PINK, 0.9018),
]
for text, color, y in legend_rows:
    fig.add_annotation(
        text=text, xref="paper", yref="paper", x=0.5005, y=y,
        xanchor="center", yanchor="middle", showarrow=False,
        font=dict(size=20.5, color=color, family=FONT),
    )

fig.write_html("out.html")
